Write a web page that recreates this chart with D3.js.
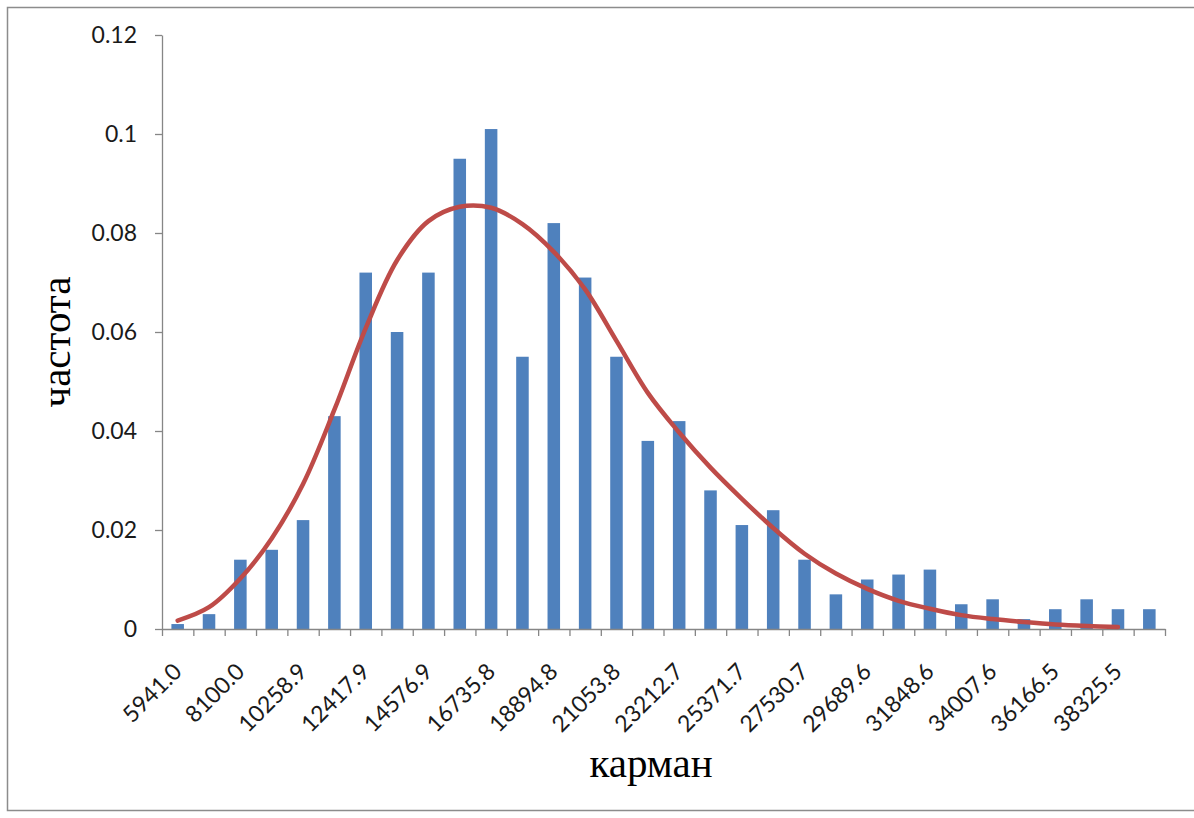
<!DOCTYPE html>
<html>
<head>
<meta charset="utf-8">
<script src="https://cdnjs.cloudflare.com/ajax/libs/d3/7.8.5/d3.min.js"></script>
<style>
  body { margin: 0; background: #fff; }
  .tick text { font-family: Lato, 'Open Sans', sans-serif; fill: #1a1a1a; }
</style>
</head>
<body>
<div id="chart"></div>
<script>
// Our canvas
const width = 1194,
  height = 818,
  marginLeft = 162,
  marginRight = 29,
  marginTop = 35,
  marginBottom = 189

// Frequencies per bin (bars)
const frequencies = [0.001, 0.003, 0.014, 0.016, 0.022, 0.043, 0.072, 0.060, 0.072, 0.095,
  0.101, 0.055, 0.082, 0.071, 0.055, 0.038, 0.042, 0.028, 0.021, 0.024,
  0.014, 0.007, 0.010, 0.011, 0.012, 0.005, 0.006, 0.002, 0.004, 0.006,
  0.004, 0.004]

// Fitted curve, one value per bin (bins 0..30)
const fitted = [0.0017, 0.0044, 0.0102, 0.0183, 0.0293, 0.0443, 0.0608, 0.0745, 0.0824, 0.0853,
  0.0851, 0.0818, 0.0762, 0.0686, 0.0582, 0.0477, 0.0397, 0.0326, 0.0263, 0.0204,
  0.0152, 0.0112, 0.0081, 0.0057, 0.0041, 0.0028, 0.002, 0.0014, 0.0009, 0.0006,
  0.0004]

// Labels shown under every second bin
const binLabels = ['5941.0', '8100.0', '10258.9', '12417.9', '14576.9', '16735.8',
  '18894.8', '21053.8', '23212.7', '25371.7', '27530.7', '29689.6', '31848.6',
  '34007.6', '36166.5', '38325.5']

const yTicks = [0, 0.02, 0.04, 0.06, 0.08, 0.1, 0.12]
const yTickLabels = ['0', '0.02', '0.04', '0.06', '0.08', '0.1', '0.12']

const xTitle = 'карман',
  yTitle = 'частота'

const axisColor = '#868686'

let svg = d3.select('#chart')
  .append('svg')
  .attr('width', width)
  .attr('height', height)

// outer frame
svg.append('rect')
  .attr('x', 7.5)
  .attr('y', 7.5)
  .attr('width', width + 10)
  .attr('height', 803)
  .attr('fill', '#fff')
  .attr('stroke', '#8c8c8c')
  .attr('stroke-width', 1.5)

let xScale = d3.scaleBand()
  .domain(d3.range(frequencies.length))
  .range([marginLeft, width - marginRight])

let edgeScale = d3.scaleLinear()
  .domain([0, frequencies.length])
  .range([marginLeft, width - marginRight])

let yScale = d3.scaleLinear()
  .domain([0, 0.12])
  .range([height - marginBottom, marginTop])

const barWidth = xScale.bandwidth() / 2.5

svg.selectAll('rect.bar')
  .data(frequencies)
  .enter()
  .append('rect')
  .attr('class', 'bar')
  .attr('x', (d, i) => xScale(i) + (xScale.bandwidth() - barWidth) / 2)
  .attr('y', d => yScale(d))
  .attr('width', barWidth)
  .attr('height', d => yScale(0) - yScale(d))
  .attr('fill', '#4F81BD')

// y axis
let y_axis = d3.axisLeft(yScale)
  .tickValues(yTicks)
  .tickFormat((d, i) => yTickLabels[i])
  .tickSize(7)
  .tickSizeOuter(0)
  .tickPadding(18)

let gy = svg.append('g')
  .attr('transform', `translate(${marginLeft},0)`)
  .call(y_axis)
gy.selectAll('text').style('font-size', '23px')

// x axis, ticks between bins
let x_axis = d3.axisBottom(edgeScale)
  .tickValues(d3.range(frequencies.length + 1))
  .tickFormat('')
  .tickSize(7)
  .tickSizeOuter(0)

svg.append('g')
  .attr('transform', `translate(0,${yScale(0)})`)
  .call(x_axis)

svg.selectAll('.domain, .tick line')
  .attr('stroke', axisColor)
  .attr('stroke-width', 1.3)

// rotated bin labels
svg.append('g')
  .selectAll('text')
  .data(binLabels)
  .enter()
  .append('text')
  .attr('transform', (d, i) => {
    let x = xScale(i * 2) + xScale.bandwidth() / 2 + 5.5
    return `translate(${x},${yScale(0) + 44}) rotate(-45)`
  })
  .attr('text-anchor', 'end')
  .style('font-family', 'Lato, sans-serif')
  .style('font-size', '23px')
  .attr('fill', '#1a1a1a')
  .text(d => d)

// fitted curve
let line = d3.line()
  .x((d, i) => xScale(i) + xScale.bandwidth() / 2)
  .y(d => yScale(d))
  .curve(d3.curveCatmullRom.alpha(0.5))

svg.append('path')
  .datum(fitted)
  .attr('d', line)
  .attr('fill', 'none')
  .attr('stroke', '#BE4B48')
  .attr('stroke-width', 4.5)
  .attr('stroke-linecap', 'round')

// axis titles
svg.append('text')
  .attr('x', 651)
  .attr('y', 777)
  .attr('text-anchor', 'middle')
  .style('font-family', "'Liberation Serif', 'DejaVu Serif', serif")
  .style('font-size', '41px')
  .text(xTitle)

svg.append('text')
  .attr('transform', 'translate(70,342) rotate(-90)')
  .attr('text-anchor', 'middle')
  .style('font-family', "'Liberation Serif', 'DejaVu Serif', serif")
  .style('font-size', '41px')
  .text(yTitle)
</script>
</body>
</html>
